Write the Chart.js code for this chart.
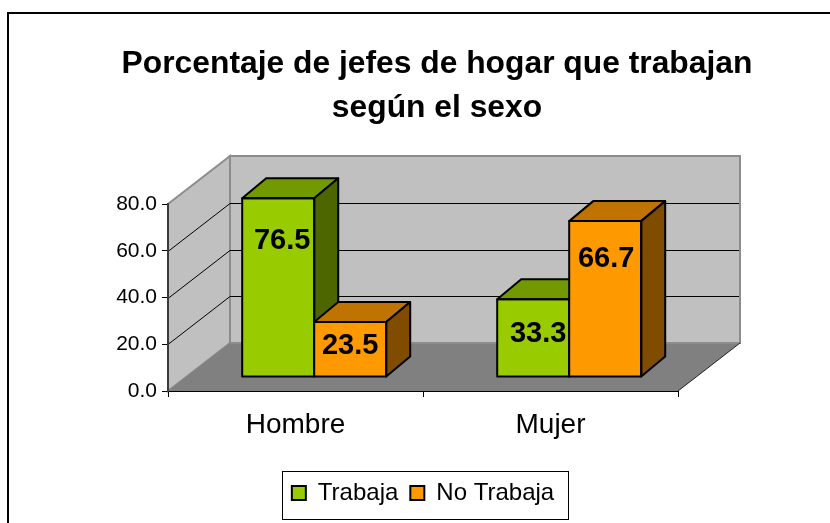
<!DOCTYPE html>
<html><head><meta charset="utf-8">
<style>html,body{margin:0;padding:0;background:#fff}canvas{display:block}</style>
<script src="https://cdn.jsdelivr.net/npm/chart.js@4"></script>
</head><body><canvas id="c" width="830" height="523"></canvas>
<script>
const categories = ["Hombre", "Mujer"];
const trabaja = [76.5, 33.3];
const noTrabaja = [23.5, 66.7];
const seriesNames = ["Trabaja", "No Trabaja"];
const titleLines = ["Porcentaje de jefes de hogar que trabajan", "según el sexo"];
const axisMax = 80, axisStep = 20;

const FONT = '"Liberation Sans", Arial, sans-serif';
const BACK = {dx: 62, dy: -48};     // depth of the whole 3D box
const BAR = {dx: 24, dy: -20};      // depth of one bar
const PLACE = {dx: 18.7, dy: -14};  // where the bars' front faces stand on the floor
const FACE = [
  {front: "#99CC00", top: "#739900", side: "#4D6600"},
  {front: "#FF9900", top: "#BF7300", side: "#804D00"}
];
const LABEL_NUDGE = [[[4, 41.5], [5, 33.7]], [[0, 23], [1, 36.7]]];

function poly(ctx, pts, fill, stroke, lw) {
  ctx.beginPath();
  pts.forEach((p, i) => i ? ctx.lineTo(p[0], p[1]) : ctx.moveTo(p[0], p[1]));
  ctx.closePath();
  if (fill) { ctx.fillStyle = fill; ctx.fill(); }
  if (stroke) { ctx.strokeStyle = stroke; ctx.lineWidth = lw; ctx.stroke(); }
}

const box3d = {
  id: "box3d",
  beforeDraw(chart) {
    const {ctx, chartArea: a, scales: {y}} = chart;
    const L = a.left, R = a.right, B = a.bottom, T = a.top;
    const dx = BACK.dx, dy = BACK.dy;
    ctx.save();
    ctx.fillStyle = "#fff"; ctx.fillRect(0, 0, 830, 523);
    ctx.lineJoin = "miter";
    poly(ctx, [[L+dx,T+dy],[R+dx,T+dy],[R+dx,B+dy],[L+dx,B+dy]], "#C0C0C0", "#8c8c8c", 2);
    poly(ctx, [[L,T],[L+dx,T+dy],[L+dx,B+dy],[L,B]], "#C0C0C0", "#8c8c8c", 2);
    ctx.strokeStyle = "#000"; ctx.lineWidth = 1;
    y.ticks.forEach(t => {
      if (t.value === 0 || t.value === axisMax) return;
      const py = Math.round(y.getPixelForValue(t.value)) + 0.5;
      ctx.beginPath();
      ctx.moveTo(L, py); ctx.lineTo(L+dx, py+dy); ctx.lineTo(R+dx-1, py+dy);
      ctx.stroke();
    });
    poly(ctx, [[L,B],[L+dx,B+dy],[R+dx,B+dy],[R,B]], "#808080");
    ctx.strokeStyle = "#8c8c8c"; ctx.lineWidth = 2;
    ctx.beginPath(); ctx.moveTo(L+dx,B+dy); ctx.lineTo(R+dx,B+dy); ctx.stroke();
    ctx.strokeStyle = "#222"; ctx.lineWidth = 1;
    ctx.beginPath(); ctx.moveTo(R,B); ctx.lineTo(R+dx,B+dy); ctx.stroke();
    ctx.restore();
  },
  beforeDatasetDraw() { return false; },
  afterDatasetsDraw(chart) {
    const {ctx} = chart;
    [0, 1].forEach(i => {
      const meta = chart.getDatasetMeta(i);
      ctx.save();
      ctx.translate(PLACE.dx, PLACE.dy);
      meta.controller.draw();
      ctx.lineJoin = "round";
      meta.data.forEach(el => {
        const p = el.getProps(["x", "y", "base", "width"], true);
        const l = p.x - p.width/2, r = p.x + p.width/2, t = p.y, b = p.base;
        poly(ctx, [[l,t],[r,t],[r+BAR.dx,t+BAR.dy],[l+BAR.dx,t+BAR.dy]], FACE[i].top, "#000", 2);
        poly(ctx, [[r,t],[r+BAR.dx,t+BAR.dy],[r+BAR.dx,b+BAR.dy],[r,b]], FACE[i].side, "#000", 2);
        poly(ctx, [[l,t],[r,t],[r,b],[l,b]], null, "#000", 2);
      });
      ctx.restore();
    });
    ctx.save();
    ctx.fillStyle = "#000";
    ctx.font = 'bold 29px ' + FONT;
    ctx.textAlign = "center"; ctx.textBaseline = "middle";
    [0, 1].forEach(i => {
      chart.getDatasetMeta(i).data.forEach((el, j) => {
        const p = el.getProps(["x", "y"], true);
        const n = LABEL_NUDGE[i][j];
        const v = chart.data.datasets[i].data[j];
        ctx.fillText(v.toFixed(1), p.x + PLACE.dx + n[0], p.y + PLACE.dy + n[1] + 1);
      });
    });
    ctx.restore();
  },
  afterLayout(chart) {
    chart.legend.left += 84; chart.legend.right += 84;
    chart.titleBlock.left += 98; chart.titleBlock.right += 98;
  },
  afterDraw(chart) {
    const {ctx} = chart;
    ctx.save();
    ctx.strokeStyle = "#000"; ctx.lineWidth = 1;
    ctx.strokeRect(282.5, 471.5, 286, 48);
    ctx.lineWidth = 2;
    ctx.beginPath();
    ctx.moveTo(8, 530); ctx.lineTo(8, 13); ctx.lineTo(832, 13);
    ctx.stroke();
    ctx.restore();
  }
};

new Chart(document.getElementById("c"), {
  type: "bar",
  data: {
    labels: categories,
    datasets: [
      {label: seriesNames[0], data: trabaja, backgroundColor: FACE[0].front, borderWidth: 0},
      {label: seriesNames[1], data: noTrabaja, backgroundColor: FACE[1].front, borderWidth: 0}
    ]
  },
  plugins: [box3d],
  options: {
    responsive: false, animation: false, events: [],
    layout: {padding: {left: 0, right: 152, top: 0, bottom: 8}},
    datasets: {bar: {categoryPercentage: 144/255, barPercentage: 1}},
    scales: {
      x: {
        grid: {drawOnChartArea: false, color: "#000", tickLength: 6, offset: true},
        border: {color: "#000", width: 1},
        ticks: {color: "#000", font: {family: FONT, size: 28}, padding: 11, maxRotation: 0},
        afterFit(s) { s.height = 78; }
      },
      y: {
        min: 0, max: axisMax,
        grid: {drawOnChartArea: false, color: "#000", tickLength: 6},
        border: {color: "#3a3a3a", width: 2},
        ticks: {stepSize: axisStep, color: "#000", font: {family: FONT, size: 21}, padding: 5,
                callback: v => v.toFixed(1)},
        afterFit(s) { s.width = 168; }
      }
    },
    plugins: {
      title: {
        display: true, text: titleLines, color: "#000",
        font: {family: FONT, size: 31.8, weight: "bold", lineHeight: 1.4},
        padding: {top: 41.5, bottom: 73.5}
      },
      legend: {
        position: "bottom",
        labels: {
          color: "#000", font: {family: FONT, size: 24}, boxWidth: 14, boxHeight: 14, padding: 12,
          generateLabels(chart) {
            return chart.data.datasets.map((d, i) => ({
              text: d.label, fillStyle: d.backgroundColor, strokeStyle: "#000", lineWidth: 2, datasetIndex: i
            }));
          }
        }
      },
      tooltip: {enabled: false}
    }
  }
});
</script></body></html>
